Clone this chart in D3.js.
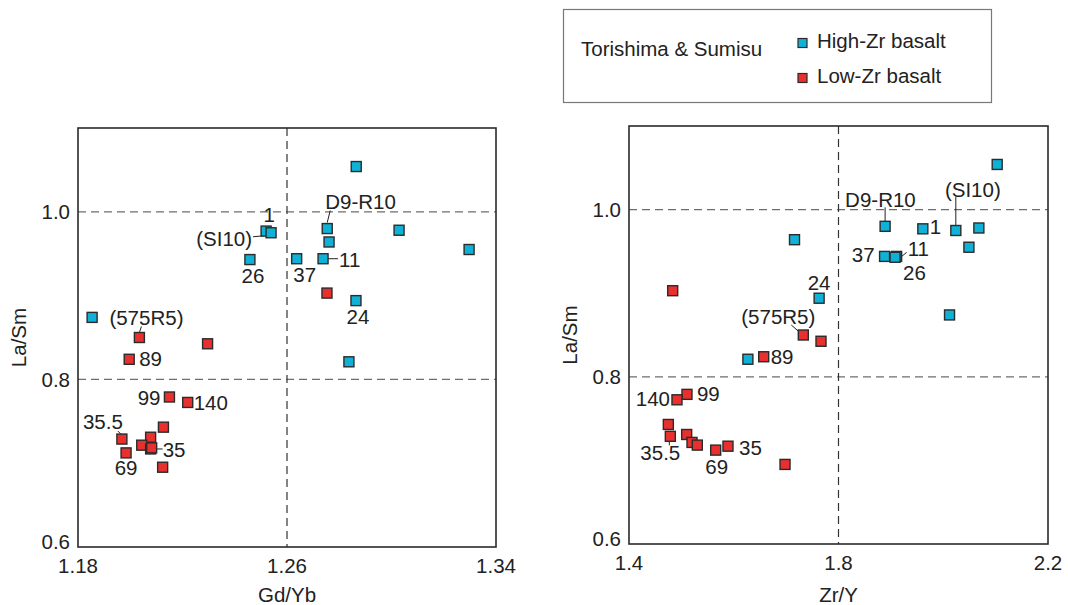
<!DOCTYPE html>
<html>
<head>
<meta charset="utf-8">
<script src="https://cdn.jsdelivr.net/npm/d3@7"></script>
<style>
  body { margin: 0; background: #fff; }
  svg { display: block; font-family: "Liberation Sans", Arial, sans-serif; }
</style>
</head>
<body>
<svg id="chart" width="1068" height="605"></svg>
<script>
// High-Zr basalt samples
var highNames = ["", "D9-R10", "1", "(SI10)", "", "", "", "37", "11", "26", "24", "", ""];
var highLaSm  = [1.054, 0.980, 0.977, 0.975, 0.978, 0.955, 0.964, 0.944, 0.944, 0.943, 0.894, 0.874, 0.821];
var highGdYb  = [1.2865, 1.2754, 1.2520, 1.2539, 1.3029, 1.3297, 1.2761, 1.2637, 1.2738, 1.2458, 1.2864, 1.1854, 1.2837];
var highZrY   = [2.103, 1.889, 1.961, 2.024, 2.068, 2.049, 1.716, 1.888, 1.911, 1.908, 1.763, 2.012, 1.627];

// Low-Zr basalt samples
var lowNames = ["", "(575R5)", "", "89", "99", "140", "", "35.5", "", "", "35", "", "69", ""];
var lowLaSm  = [0.903, 0.850, 0.8425, 0.824, 0.779, 0.7725, 0.743, 0.7288, 0.731, 0.7215, 0.717, 0.7183, 0.7123, 0.6952];
var lowGdYb  = [1.2753, 1.2035, 1.2296, 1.1996, 1.2150, 1.2220, 1.2127, 1.1968, 1.2078, 1.2044, 1.2078, 1.2082, 1.1984, 1.2124];
var lowZrY   = [1.4834, 1.7328, 1.7666, 1.6572, 1.5107, 1.4916, 1.4751, 1.4789, 1.5101, 1.5203, 1.589, 1.5304, 1.5655, 1.6979];

var gdYbTicks = [1.18, 1.26, 1.34];
var zrYTicks  = [1.4, 1.8, 2.2];
var laSmTicks = [0.6, 0.8, 1.0];

// label placement relative to the marker: dx, dy, anchor, optional leader
var leftLabels = {
  "D9-R10": [-2, -20, "start", [3, -18, 0, -6]],
  "1":      [3, -9, "middle"],
  "(SI10)": [-19, 13, "end", [-18, 4, -7, 3]],
  "26":     [3, 23, "middle"],
  "37":     [8, 23, "middle"],
  "11":     [16, 8, "start", [5, 0, 15, 0]],
  "24":     [2, 23, "middle"],
  "(575R5)":[-30, -13, "start", [2, -11, 0, -5]],
  "89":     [10, 7, "start"],
  "99":     [-9, 8, "end"],
  "140":    [6, 8, "start"],
  "35.5":   [-19, -10, "middle", [-4, -8, -1, -5]],
  "35":     [12, 8, "start", [5, 0, 12, 0]],
  "69":     [0, 22, "middle"]
};
var rightLabels = {
  "D9-R10": [-40, -19, "start", [0, -19, 0, -5]],
  "1":      [7, 5, "start"],
  "(SI10)": [17, -34, "middle", [0, -34, 0, -5]],
  "37":     [-10, 6, "end"],
  "11":     [11, 0, "start", [5, 0, 10, -4]],
  "26":     [8, 23, "start"],
  "24":     [0, -8, "middle"],
  "(575R5)":[-25, -11, "middle", [-12, -10, -4, -3]],
  "89":     [7, 7, "start"],
  "140":    [-7, 6, "end"],
  "99":     [10, 7, "start"],
  "35.5":   [-10, 24, "middle", [-1, 3, -1, 9]],
  "69":     [1, 24, "middle"],
  "35":     [11, 9, "start"]
};

var blue = "#0fb1d7", red = "#e8302e";
var fs = 20.5;
var svg = d3.select("#chart");

function panel(opt) {
  var x = d3.scaleLinear().domain(opt.xDomain).range([opt.left, opt.right]);
  var y = d3.scaleLinear().domain([0.6, 1.1]).range([opt.bottom, opt.top]);
  var g = svg.append("g");

  // dashed reference lines
  [0.8, 1.0].forEach(function(v) {
    g.append("line")
      .attr("x1", opt.left).attr("x2", opt.right)
      .attr("y1", y(v)).attr("y2", y(v))
      .attr("stroke", "#6e6e6e").attr("stroke-width", 1.2)
      .attr("stroke-dasharray", "8,5");
  });
  g.append("line")
    .attr("x1", x(opt.xMid)).attr("x2", x(opt.xMid))
    .attr("y1", opt.top).attr("y2", opt.bottom)
    .attr("stroke", "#333").attr("stroke-width", 1.2)
    .attr("stroke-dasharray", "8,5");

  // frame
  g.append("rect")
    .attr("x", opt.left).attr("y", opt.top)
    .attr("width", opt.right - opt.left).attr("height", opt.bottom - opt.top)
    .attr("fill", "none").attr("stroke", "#2a2a2a").attr("stroke-width", 1.6);

  // tick labels
  g.selectAll(".xt").data(opt.xTicks).enter().append("text")
    .attr("x", function(d) { return x(d); })
    .attr("y", opt.bottom + 25.5)
    .attr("text-anchor", "middle")
    .attr("font-size", fs).attr("fill", "#222")
    .text(function(d) { return opt.fmt(d); });
  g.selectAll(".yt").data(laSmTicks).enter().append("text")
    .attr("x", opt.left - 8)
    .attr("y", function(d, i) { return y(d) + (i === 0 ? 2 : 7.5); })
    .attr("text-anchor", "end")
    .attr("font-size", fs).attr("fill", "#222")
    .text(function(d) { return d3.format(".1f")(d); });

  // axis titles
  g.append("text")
    .attr("x", (opt.left + opt.right) / 2).attr("y", 602)
    .attr("text-anchor", "middle").attr("font-size", fs).attr("fill", "#222")
    .text(opt.xTitle);
  g.append("text")
    .attr("transform", "translate(" + opt.yTitleX + "," + ((opt.top + opt.bottom) / 2) + ") rotate(-90)")
    .attr("text-anchor", "middle").attr("font-size", fs).attr("fill", "#222")
    .text("La/Sm");

  var pts = [];
  highNames.forEach(function(n, i) { pts.push({name: n, xv: opt.highX[i], yv: highLaSm[i], c: blue}); });
  lowNames.forEach(function(n, i) { pts.push({name: n, xv: opt.lowX[i], yv: lowLaSm[i], c: red}); });

  // leaders
  pts.filter(function(d) { return d.name && opt.labels[d.name] && opt.labels[d.name][3]; })
    .forEach(function(d) {
      var L = opt.labels[d.name][3], px = x(d.xv), py = y(d.yv);
      g.append("line")
        .attr("x1", px + L[0]).attr("y1", py + L[1])
        .attr("x2", px + L[2]).attr("y2", py + L[3])
        .attr("stroke", "#222").attr("stroke-width", 1);
    });

  var s = 10;
  g.selectAll(".pt").data(pts).enter().append("rect")
    .attr("x", function(d) { return x(d.xv) - s / 2; })
    .attr("y", function(d) { return y(d.yv) - s / 2; })
    .attr("width", s).attr("height", s)
    .attr("fill", function(d) { return d.c; })
    .attr("stroke", "#2b2b2b").attr("stroke-width", 1.4);

  g.selectAll(".lb").data(pts.filter(function(d) { return d.name; })).enter().append("text")
    .attr("x", function(d) { return x(d.xv) + opt.labels[d.name][0]; })
    .attr("y", function(d) { return y(d.yv) + opt.labels[d.name][1]; })
    .attr("text-anchor", function(d) { return opt.labels[d.name][2]; })
    .attr("font-size", fs).attr("fill", "#222")
    .text(function(d) { return d.name; });
}

panel({left: 78, right: 496, top: 128, bottom: 547, xDomain: [1.18, 1.34], xMid: 1.26,
       xTicks: gdYbTicks, fmt: d3.format(".2f"), xTitle: "Gd/Yb", yTitleX: 26,
       highX: highGdYb, lowX: lowGdYb, labels: leftLabels});
panel({left: 629, right: 1048, top: 126, bottom: 544, xDomain: [1.4, 2.2], xMid: 1.8,
       xTicks: zrYTicks, fmt: d3.format(".1f"), xTitle: "Zr/Y", yTitleX: 577,
       highX: highZrY, lowX: lowZrY, labels: rightLabels});

// legend
var leg = svg.append("g");
leg.append("rect").attr("x", 563.5).attr("y", 9.5).attr("width", 428).attr("height", 93)
  .attr("fill", "#fff").attr("stroke", "#777").attr("stroke-width", 1.2);
leg.append("text").attr("x", 581).attr("y", 56).attr("font-size", fs).attr("fill", "#222")
  .text("Torishima & Sumisu");
var legItems = [["High-Zr basalt", blue, 43], ["Low-Zr basalt", red, 78]];
legItems.forEach(function(it) {
  leg.append("rect").attr("x", 798).attr("y", it[2] - 4.5).attr("width", 9).attr("height", 9)
    .attr("fill", it[1]).attr("stroke", "#2b2b2b").attr("stroke-width", 1.2);
  leg.append("text").attr("x", 817).attr("y", it[2] + 5).attr("font-size", fs).attr("fill", "#222")
    .text(it[0]);
});
</script>
</body>
</html>
